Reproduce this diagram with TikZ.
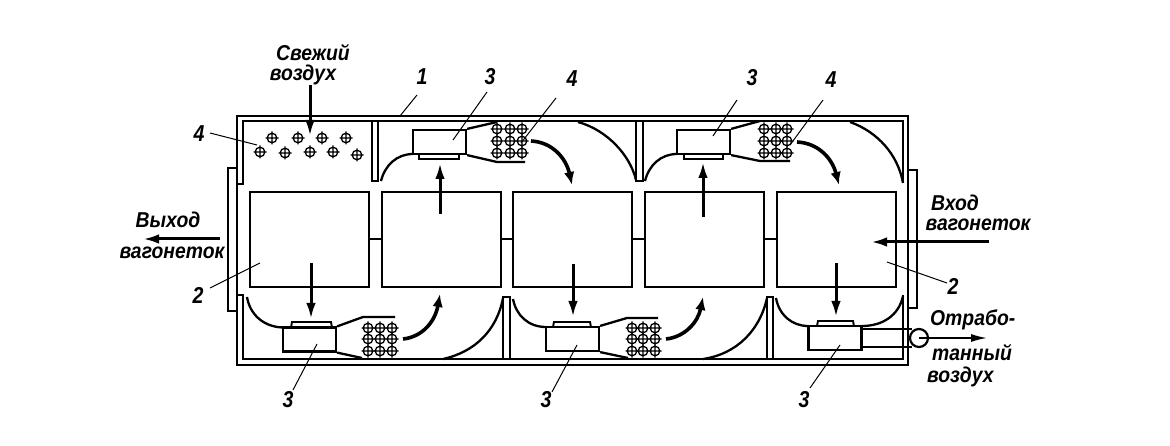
\documentclass[tikz,border=0pt]{standalone}
\usepackage{fontspec}
\setmainfont{Liberation Sans}
\usetikzlibrary{arrows.meta}
\tikzset{
 x=1pt,y=-1pt,
 wall/.style={line width=2.7pt,line join=miter},
 inwall/.style={line width=2.3pt},
 plate/.style={line width=1.9pt},
 car/.style={draw,line width=2.4pt,minimum width=119pt,minimum height=95pt,inner sep=0pt},
 fanbox/.style={draw,line width=2.2pt,minimum width=53pt,minimum height=24pt,inner sep=0pt},
 flow/.style={line width=3pt,-{Latex[length=16pt,width=9.5pt]}},
 bendflow/.style={line width=3.6pt,-{Latex[length=13pt,width=10.5pt]}},
 lead/.style={line width=1pt},
 lbl/.style={font=\bfseries\itshape\fontsize{23}{23}\selectfont,inner sep=0pt,xscale=.85},
 txt/.style={font=\bfseries\itshape\fontsize{21.5}{21.5}\selectfont,inner sep=0pt,xscale=.9},
 tubeline/.style={line width=1.3pt}
}
\newcommand{\tubeat}[2]{\draw[tubeline] (#1,#2) circle (4.8pt) (#1-6.5,#2) -- (#1+6.5,#2) (#1,#2-6.5) -- (#1,#2+6.5);}
\newcommand{\tubegrid}[6]{\foreach \a in {#1,#2,#3}{\foreach \b in {#4,#5,#6}{\tubeat{\a}{\b}}}}
\newcommand{\leaderline}[5]{\coordinate (#1s) at (#2,#3); \coordinate (#1e) at (#4,#5); \draw[lead] (#1s) -- (#1e);}
\newcommand{\flowline}[6][flow]{\coordinate (#2s) at (#3,#4); \coordinate (#2e) at (#5,#6); \draw[#1] (#2s) -- (#2e);}
\begin{document}
\begin{tikzpicture}
\useasboundingbox (0,0) rectangle (1170,446);
% outer casing
\draw[wall] (237,116) -- (908,116) -- (908,365) -- (237,365) -- cycle;
\draw[inwall] (237,184) -- (243,184) -- (243,121) -- (903,121) -- (903,183);
\draw[inwall] (237,295) -- (243,295) -- (243,359) -- (903,359) -- (903,295);
% doors
\draw[inwall] (237,168) -- (228,168) -- (228,311) -- (237,311);
\draw[inwall] (908,170) -- (917,170) -- (917,308) -- (908,308);
% top partitions
\draw[inwall] (372,121) -- (372,181) -- (378,181) -- (378,121);
\draw[inwall] (636,121) -- (636,181) -- (643,181) -- (643,121);
% bottom partitions
\draw[inwall] (503,359) -- (503,297) -- (510,297) -- (510,359);
\draw[inwall] (767,359) -- (767,297) -- (773,297) -- (773,359);
% trolleys
\node[car] (c1) at (309.5,239.5) {};
\node[car] (c2) at (441.5,239.5) {};
\node[car] (c3) at (572.5,239.5) {};
\node[car] (c4) at (704.5,239.5) {};
\node[car] (c5) at (836.5,239.5) {};
\draw[line width=2pt] (c1.east) -- (c2.west) (c2.east) -- (c3.west) (c3.east) -- (c4.west) (c4.east) -- (c5.west);
% fresh-air tubes
\foreach \p/\q in {272/138,298/138,322/138,346/138,260/152,285/153,310/152,333/152,357/155}{\tubeat{\p}{\q}}
% top fan 1
\node[fanbox] (f1) at (439.5,142) {};
\draw[plate] (419,154) rectangle (459,159);
\draw[inwall] (381,181) .. controls (385,165) and (397,154) .. (413,154);
\draw[inwall] (f1.north east) -- (497,122);
\draw[inwall] (f1.south east) -- (497,162) -- (525,162);
\tubegrid{497}{510}{522}{129}{141}{153}
\draw[inwall] (578,122) .. controls (607,130) and (630,155) .. (636,180);
% top fan 2
\node[fanbox] (f2) at (703.5,142) {};
\draw[plate] (684,154) rectangle (723,159);
\draw[inwall] (645,181) .. controls (649,165) and (661,154) .. (677,154);
\draw[inwall] (f2.north east) -- (760,121);
\draw[inwall] (f2.south east) -- (760,161) -- (790,161);
\tubegrid{764}{776}{787}{129}{141}{153}
\draw[inwall] (850,122) .. controls (878,132) and (898,155) .. (903,183);
% bottom fan 1
\node[fanbox] (f3) at (309.5,339.5) {};
\draw[plate] (291,327.5) -- (292,322) -- (331,322) -- (332,327.5);
\draw[inwall] (247,297) .. controls (250,315) and (264,327) .. (283,327.5);
\draw[inwall] (f3.north east) -- (363,317) -- (395,317);
\draw[inwall] (f3.south east) -- (362,358);
\tubegrid{368}{380}{392}{328}{339}{351}
\draw[inwall] (443,359) .. controls (475,352) and (497,330) .. (503,298);
% bottom fan 2
\node[fanbox] (f4) at (572.5,339) {};
\draw[plate] (553,327) -- (554,322) -- (590,322) -- (591,327);
\draw[inwall] (513,299) .. controls (516,315) and (528,327) .. (546,327);
\draw[inwall] (f4.north east) -- (627,318) -- (658,318);
\draw[inwall] (f4.south east) -- (628,358);
\tubegrid{632}{643}{655}{328}{339}{351}
\draw[inwall] (703,359) .. controls (737,354) and (760,330) .. (767,298);
% bottom fan 3
\node[fanbox] (f5) at (835,338) {};
\draw[plate] (817,326) -- (818,321) -- (853,321) -- (854,326);
\draw[inwall] (776,298) .. controls (779,315) and (792,326) .. (808,326);
\draw[inwall] (862,326) .. controls (883,326) and (899,315) .. (903,296);
\node[draw,circle,line width=2.2pt,minimum size=18pt,inner sep=0pt] (ex) at (919,338) {};
\draw[inwall] (862,329) -- (912,329) (862,347) -- (912,347);
% straight arrows
\flowline{fresh}{310}{85}{310}{136}
\flowline{down1}{311}{263}{311}{319}
\flowline{up1}{440}{214}{440}{163}
\flowline{down2}{573}{264}{573}{317}
\flowline{up2}{703}{217}{703}{162}
\flowline{down3}{836}{263}{836}{317}
\flowline{out}{220}{239}{143}{239}
\flowline{in}{989}{242}{871}{242}
\draw[line width=2.4pt,-{Latex[length=17pt,width=8pt]}] (ex.center) -- (988,338);
% curved arrows
\draw[bendflow] (403,339) .. controls (422,337) and (435,322) .. (440,294);
\draw[bendflow] (666,339) .. controls (685,337) and (698,322) .. (703,297);
\draw[bendflow] (531,141) .. controls (552,142) and (566,158) .. (572,185);
\draw[bendflow] (797,142) .. controls (818,143) and (832,158) .. (839,185);
% leaders
\leaderline{la}{400}{116}{417}{95}
\leaderline{lb}{453}{140}{487}{92}
\leaderline{lc}{521}{143}{556}{98}
\leaderline{ld}{713}{136}{737}{100}
\leaderline{le}{790}{145}{823}{100}
\leaderline{lf}{210}{133}{257}{145}
\leaderline{lg}{260}{263}{210}{288}
\leaderline{lh}{887}{262}{947}{283}
\leaderline{li}{317}{344}{293}{390}
\leaderline{lj}{577}{345}{552}{392}
\leaderline{lk}{840}{345}{810}{388}
% labels
\node[lbl] (n1) at (422,77) {1};
\node[lbl] (n3a) at (490,77) {3};
\node[lbl] (n4a) at (572,79) {4};
\node[lbl] (n3b) at (752,78) {3};
\node[lbl] (n4b) at (831,80) {4};
\node[lbl] (n4c) at (199,134) {4};
\node[lbl] (n2a) at (198,295) {2};
\node[lbl] (n2b) at (953,286) {2};
\node[lbl] (n3c) at (288,400) {3};
\node[lbl] (n3d) at (546,400) {3};
\node[lbl] (n3e) at (804,400) {3};
\node[txt] (t1) at (313,53) {Свежий};
\node[txt] (t1b) at (303,75) {воздух};
\node[txt] (t2) at (168,220) {Выход};
\node[txt] (t2b) at (172,253) {вагонеток};
\node[txt] (t3) at (955,203) {Вход};
\node[txt] (t3b) at (978,225) {вагонеток};
\node[txt,anchor=west] (t4) at (930,320) {Отрабо-};
\node[txt,anchor=west] (t5) at (932,353) {танный};
\node[txt,anchor=west] (t6) at (927,377) {воздух};
\end{tikzpicture}
\end{document}
